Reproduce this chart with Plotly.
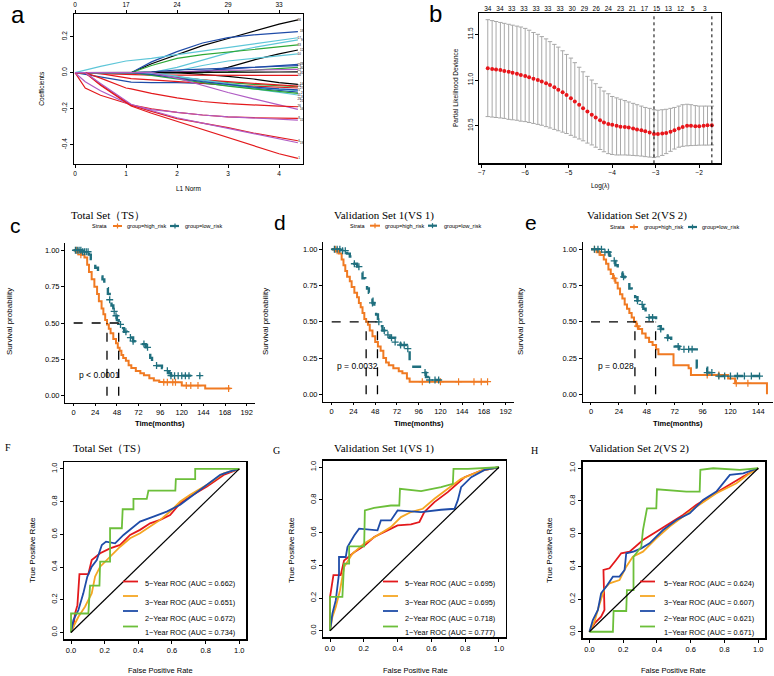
import numpy as np
import plotly.graph_objects as go

W, H = 774, 676
def px(x): return x / W
def py(y): return 1 - y / H

SANS = "Liberation Sans, Arial, sans-serif"
SERIF = "Liberation Serif, Times New Roman, serif"

# ================= Panel a : LASSO coefficient paths =================
l1_norm = [0, 0.2, 0.5, 1.0, 1.1, 1.5, 2.0, 2.5, 3.0, 3.5, 4.0, 4.37]
coef_paths = [
    [0, 0, 0, 0, 0, 0.05, 0.098, 0.15, 0.19, 0.23, 0.27, 0.293],
    [0, 0, 0, 0, 0, 0.06, 0.117, 0.165, 0.195, 0.21, 0.222, 0.228],
    [0, 0.015, 0.035, 0.065, 0.068, 0.08, 0.10, 0.12, 0.14, 0.16, 0.18, 0.194],
    [0, 0, 0, 0, 0, 0, 0.03, 0.07, 0.11, 0.14, 0.165, 0.182],
    [0, 0, 0, 0, 0, 0.04, 0.08, 0.10, 0.115, 0.13, 0.145, 0.154],
    [0, 0, 0, 0, 0, 0, 0, 0, 0.03, 0.07, 0.105, 0.126],
    [0, 0, 0, 0, 0, 0, 0.01, 0.04, 0.065, 0.08, 0.095, 0.105],
    [0, 0, 0, 0, 0, 0, 0, 0.01, 0.02, 0.03, 0.04, 0.046],
    [0, 0, 0, 0, 0, 0.005, 0.015, 0.02, 0.025, 0.03, 0.036, 0.039],
    [0, 0, 0, 0, 0, 0, 0, 0, 0.005, 0.015, 0.025, 0.03],
    [0, 0, 0, 0, 0, 0, 0.005, 0.01, 0.013, 0.015, 0.017, 0.018],
    [0, 0, 0, 0, 0, 0, 0, -0.01, -0.02, -0.035, -0.055, -0.065],
    [0, 0, 0, 0, 0, 0, 0, 0, 0.002, 0.003, 0.004, 0.005],
    [0, 0, -0.005, -0.01, -0.012, -0.013, -0.014, -0.014, -0.015, -0.015, -0.015, -0.015],
    [0, -0.01, -0.025, -0.05, -0.052, -0.055, -0.055, -0.06, -0.07, -0.085, -0.10, -0.108],
    [0, 0, -0.005, -0.03, -0.033, -0.04, -0.05, -0.06, -0.068, -0.074, -0.08, -0.085],
    [0, 0, 0, 0, 0, -0.01, -0.025, -0.04, -0.055, -0.065, -0.073, -0.078],
    [0, 0, 0, 0, 0, -0.01, -0.025, -0.04, -0.05, -0.06, -0.07, -0.075],
    [0, 0, 0, 0, 0, -0.005, -0.02, -0.04, -0.06, -0.08, -0.093, -0.10],
    [0, 0, 0, 0, 0, 0, -0.02, -0.045, -0.07, -0.09, -0.11, -0.124],
    [0, 0, 0, 0, 0, -0.015, -0.035, -0.055, -0.075, -0.09, -0.105, -0.115],
    [0, 0, 0, 0, 0, -0.01, -0.03, -0.05, -0.065, -0.08, -0.09, -0.095],
    [0, 0, 0, 0, 0, 0, -0.03, -0.07, -0.11, -0.145, -0.18, -0.204],
    [0, 0, -0.03, -0.085, -0.09, -0.115, -0.14, -0.16, -0.172, -0.18, -0.186, -0.189],
    [0, -0.085, -0.125, -0.17, -0.178, -0.20, -0.22, -0.235, -0.245, -0.25, -0.253, -0.254],
    [0, -0.05, -0.10, -0.17, -0.18, -0.205, -0.222, -0.235, -0.245, -0.253, -0.26, -0.263],
    [0, 0, -0.07, -0.17, -0.185, -0.225, -0.27, -0.315, -0.36, -0.405, -0.45, -0.476],
    [0, 0, -0.065, -0.165, -0.18, -0.215, -0.255, -0.28, -0.305, -0.335, -0.36, -0.378],
    [0, 0, -0.06, -0.16, -0.175, -0.21, -0.25, -0.28, -0.31, -0.34, -0.37, -0.389],
]
path_labels = ["36", "18", "17", "9", "33", "12", "10", "28", "25", "30", "22", "14",
               "31", "20", "3", "5", "27", "24", "11", "21", "29", "2", "16", "26",
               "8", "15", "1", "6", "19"]
path_colors = ["#000000", "#1F4CA8", "#5EC6D8", "#5EC6D8", "#2EA836", "#000000",
               "#5EC6D8", "#1F4CA8", "#1F4CA8", "#2EA836", "#B05CC4", "#000000",
               "#000000", "#E3191C", "#1F4CA8", "#E3191C", "#2EA836", "#E3191C",
               "#5EC6D8", "#5EC6D8", "#2EA836", "#1F4CA8", "#B05CC4", "#E3191C",
               "#E3191C", "#B05CC4", "#E3191C", "#E3191C", "#B05CC4"]
a_top_pos = [0, 1, 2, 3, 4]
a_top_labels = ["0", "17", "24", "29", "33"]

# ================= Panel b : cross-validation deviance =================
log_lambda = [-6.86, -6.76, -6.67, -6.57, -6.48, -6.38, -6.29, -6.19, -6.10, -6.00,
              -5.91, -5.81, -5.71, -5.62, -5.52, -5.43, -5.33, -5.24, -5.14, -5.05,
              -4.95, -4.86, -4.76, -4.67, -4.57, -4.47, -4.38, -4.28, -4.19, -4.09,
              -4.00, -3.90, -3.81, -3.71, -3.62, -3.52, -3.43, -3.33, -3.24, -3.14,
              -3.04, -2.95, -2.85, -2.76, -2.66, -2.57, -2.47, -2.38, -2.28, -2.19,
              -2.09, -2.00, -1.90, -1.81, -1.71]
cv_mean = [11.13, 11.12, 11.115, 11.11, 11.10, 11.09, 11.08, 11.07, 11.055, 11.045,
           11.03, 11.015, 11.0, 10.985, 10.965, 10.945, 10.92, 10.895, 10.865, 10.835,
           10.80, 10.765, 10.73, 10.69, 10.655, 10.62, 10.59, 10.56, 10.535, 10.52,
           10.51, 10.50, 10.49, 10.485, 10.48, 10.47, 10.46, 10.45, 10.44, 10.425,
           10.41, 10.41, 10.415, 10.42, 10.435, 10.45, 10.47, 10.485, 10.50, 10.50,
           10.495, 10.495, 10.50, 10.505, 10.505]
cv_upper = [11.66, 11.65, 11.64, 11.63, 11.62, 11.61, 11.60, 11.59, 11.58, 11.565,
            11.545, 11.52, 11.50, 11.475, 11.45, 11.42, 11.39, 11.36, 11.32, 11.28,
            11.24, 11.19, 11.14, 11.09, 11.04, 11.00, 10.96, 10.92, 10.88, 10.85,
            10.82, 10.805, 10.79, 10.775, 10.76, 10.745, 10.73, 10.715, 10.70, 10.69,
            10.675, 10.67, 10.675, 10.68, 10.69, 10.70, 10.715, 10.73, 10.735, 10.73,
            10.72, 10.715, 10.715, 10.715, 10.715]
cv_lower = [10.60, 10.595, 10.59, 10.585, 10.58, 10.57, 10.565, 10.56, 10.55, 10.545,
            10.535, 10.525, 10.515, 10.505, 10.49, 10.475, 10.46, 10.445, 10.43, 10.415,
            10.395, 10.375, 10.355, 10.335, 10.31, 10.29, 10.265, 10.24, 10.215, 10.195,
            10.185, 10.18, 10.18, 10.18, 10.178, 10.175, 10.172, 10.168, 10.162, 10.157,
            10.152, 10.16, 10.175, 10.195, 10.22, 10.245, 10.265, 10.275, 10.28, 10.283,
            10.285, 10.287, 10.288, 10.288, 10.29]
nzero_pos = [-6.86, -6.58, -6.31, -6.03, -5.75, -5.48, -5.20, -4.92, -4.64, -4.37,
             -4.09, -3.81, -3.54, -3.26, -2.98, -2.71, -2.43, -2.15, -1.87]
nzero_labels = ["34", "34", "33", "33", "33", "33", "33", "30", "29", "26",
                "24", "23", "21", "17", "15", "13", "12", "5", "3"]
lambda_min = -3.04
lambda_1se = -1.71

# ================= Panels c, d, e : Kaplan-Meier =================
km_c_high_t = [0, 4, 8, 12, 15, 17, 20, 23, 26, 28, 31, 33, 35, 37, 39, 41, 44, 47, 49, 51,
               53, 55, 58, 61, 64, 69, 74, 78, 84, 89, 95, 100, 120, 146, 174]
km_c_high_s = [1.0, 0.99, 0.97, 0.95, 0.90, 0.85, 0.80, 0.75, 0.70, 0.65, 0.60, 0.56, 0.52,
               0.49, 0.46, 0.43, 0.39, 0.36, 0.33, 0.31, 0.28, 0.26, 0.24, 0.21, 0.19, 0.17,
               0.155, 0.14, 0.12, 0.105, 0.095, 0.092, 0.07, 0.05, 0.05]
km_c_low_t = [0, 10, 17, 19, 21, 24, 27, 30, 32, 34, 36, 38, 40, 42, 44, 46, 48, 50, 53, 56,
              59, 62, 66, 70, 80, 83, 85, 87, 98, 102, 106, 108, 141]
km_c_low_s = [1.0, 0.99, 0.97, 0.94, 0.91, 0.88, 0.85, 0.82, 0.80, 0.77, 0.74, 0.70, 0.66,
              0.62, 0.58, 0.55, 0.52, 0.49, 0.465, 0.44, 0.42, 0.40, 0.375, 0.355, 0.333,
              0.30, 0.26, 0.207, 0.19, 0.172, 0.155, 0.138, 0.138]
km_c_high_cens = [3, 5, 8, 100, 104, 110, 113, 125, 130, 138, 172]
km_c_low_cens = [2, 4, 6, 8, 10, 12, 14, 16, 40, 45, 47, 52, 58, 63, 66, 78, 82, 92,
                 104, 108, 112, 116, 120, 124, 128, 140]
km_c_median = [37, 50]

km_d_high_t = [0, 5, 8, 11, 13, 15, 17, 20, 22, 25, 28, 30, 32, 34, 36, 38, 40, 42, 45, 48,
               51, 54, 57, 60, 63, 68, 74, 78, 83, 86, 172]
km_d_high_s = [1.0, 0.99, 0.97, 0.93, 0.89, 0.85, 0.81, 0.78, 0.74, 0.70, 0.67, 0.63, 0.60,
               0.56, 0.52, 0.50, 0.48, 0.44, 0.40, 0.36, 0.33, 0.30, 0.25, 0.22, 0.20, 0.18,
               0.16, 0.145, 0.11, 0.087, 0.087]
km_d_low_t = [0, 12, 17, 20, 22, 25, 28, 31, 34, 37, 39, 41, 43, 45, 47, 49, 51, 53, 56, 60,
              64, 70, 76, 83, 86, 100, 102, 104, 106, 120]
km_d_low_s = [1.0, 0.99, 0.97, 0.95, 0.92, 0.90, 0.88, 0.84, 0.80, 0.76, 0.73, 0.70, 0.66,
              0.63, 0.59, 0.55, 0.50, 0.47, 0.44, 0.41, 0.39, 0.36, 0.34, 0.315, 0.19, 0.17,
              0.15, 0.12, 0.099, 0.099]
km_d_high_cens = [4, 6, 100, 120, 140, 157, 165, 172]
km_d_low_cens = [3, 6, 9, 12, 15, 25, 30, 45, 52, 58, 62, 66, 70, 76, 80, 84, 103, 108, 114, 118]
km_d_median = [38, 50.5]

km_e_high_t = [0, 5, 8, 11, 13, 15, 17, 19, 21, 23, 25, 27, 29, 31, 33, 35, 37, 39, 41, 44,
               47, 50, 53, 56, 58, 71, 84, 86, 118, 124, 151.4]
km_e_high_s = [1.0, 0.98, 0.96, 0.93, 0.90, 0.86, 0.83, 0.80, 0.77, 0.73, 0.69, 0.66, 0.62,
               0.59, 0.56, 0.53, 0.50, 0.47, 0.45, 0.42, 0.39, 0.36, 0.34, 0.31, 0.276, 0.20,
               0.18, 0.133, 0.11, 0.076, 0.0]
km_e_low_t = [0, 12, 16, 19, 21, 23, 25, 27, 29, 31, 33, 35, 38, 40, 42, 45, 47, 50, 56, 58,
              60, 63, 66, 69, 72, 76, 91, 100, 110, 145.6]
km_e_low_s = [1.0, 0.98, 0.955, 0.92, 0.89, 0.86, 0.84, 0.81, 0.79, 0.76, 0.73, 0.70, 0.67,
              0.645, 0.62, 0.59, 0.56, 0.53, 0.506, 0.47, 0.45, 0.42, 0.39, 0.36, 0.33, 0.31,
              0.184, 0.15, 0.126, 0.126]
km_e_high_cens = [3, 7, 20, 40, 100, 110, 125, 135]
km_e_low_cens = [3, 6, 9, 12, 15, 20, 28, 40, 44, 50, 53, 60, 66, 75, 80, 84, 87, 100,
                 104, 110, 115, 120, 126, 132, 138, 145]
km_e_median = [37.8, 55.6]

km_titles = ["Total Set（TS）", "Validation Set 1(VS 1)", "Validation Set 2(VS 2)"]
km_pvalues = ["p < 0.0001", "p = 0.0032", "p = 0.028"]

# ================= Panels F, G, H : time-dependent ROC =================
roc_years = ["5", "3", "2", "1"]
roc_F_fpr = [
    [0, 0.014, 0.024, 0.038, 0.05, 0.103, 0.123, 0.173, 0.232, 0.292, 0.351, 0.41, 0.47, 0.53, 0.589, 0.649, 0.708, 0.808, 0.907, 1],
    [0, 0.014, 0.044, 0.083, 0.123, 0.143, 0.173, 0.232, 0.292, 0.351, 0.41, 0.47, 0.53, 0.589, 0.649, 0.708, 0.808, 0.907, 1],
    [0, 0.014, 0.044, 0.073, 0.097, 0.123, 0.153, 0.183, 0.208, 0.262, 0.312, 0.351, 0.41, 0.49, 0.569, 0.649, 0.728, 0.808, 0.887, 0.946, 1],
    [0, 0, 0.103, 0.113, 0.169, 0.173, 0.232, 0.232, 0.302, 0.307, 0.371, 0.371, 0.45, 0.46, 0.62, 0.623, 0.738, 0.738, 1],
]
roc_F_tpr = [
    [0, 0.035, 0.116, 0.167, 0.357, 0.357, 0.443, 0.484, 0.514, 0.535, 0.596, 0.627, 0.667, 0.688, 0.718, 0.79, 0.831, 0.892, 0.963, 1],
    [0, 0.035, 0.096, 0.157, 0.239, 0.341, 0.402, 0.463, 0.524, 0.576, 0.606, 0.647, 0.688, 0.739, 0.8, 0.841, 0.902, 0.973, 1],
    [0, 0.076, 0.137, 0.239, 0.341, 0.402, 0.443, 0.535, 0.555, 0.545, 0.596, 0.627, 0.678, 0.708, 0.739, 0.78, 0.841, 0.902, 0.963, 0.984, 1],
    [0, 0.116, 0.116, 0.286, 0.286, 0.433, 0.433, 0.637, 0.637, 0.753, 0.753, 0.816, 0.816, 0.867, 0.867, 0.937, 0.937, 1.0, 1],
]
roc_F_auc = ["0.662", "0.651", "0.672", "0.734"]

roc_G_fpr = [
    [0, 0, 0.02, 0.063, 0.083, 0.143, 0.202, 0.261, 0.34, 0.40, 0.479, 0.529, 0.558, 0.618, 0.697, 0.796, 0.895, 1],
    [0, 0.014, 0.034, 0.059, 0.083, 0.133, 0.202, 0.281, 0.36, 0.42, 0.479, 0.549, 0.618, 0.697, 0.776, 0.895, 1],
    [0, 0.014, 0.034, 0.053, 0.053, 0.093, 0.103, 0.143, 0.172, 0.232, 0.281, 0.301, 0.36, 0.40, 0.539, 0.657, 0.737, 0.756, 0.776, 0.836, 0.915, 1],
    [0, 0, 0.073, 0.083, 0.113, 0.113, 0.202, 0.206, 0.261, 0.36, 0.41, 0.414, 0.539, 0.657, 0.727, 0.731, 0.816, 1],
]
roc_G_tpr = [
    [0, 0.207, 0.34, 0.34, 0.43, 0.48, 0.52, 0.573, 0.614, 0.644, 0.65, 0.665, 0.726, 0.787, 0.848, 0.939, 0.98, 1],
    [0, 0.085, 0.146, 0.248, 0.39, 0.472, 0.533, 0.583, 0.634, 0.695, 0.726, 0.746, 0.807, 0.868, 0.929, 0.98, 1],
    [0, 0.106, 0.187, 0.35, 0.451, 0.451, 0.512, 0.583, 0.624, 0.618, 0.614, 0.675, 0.675, 0.736, 0.726, 0.74, 0.746, 0.797, 0.878, 0.939, 0.984, 1],
    [0, 0.207, 0.207, 0.41, 0.41, 0.516, 0.516, 0.736, 0.752, 0.766, 0.766, 0.868, 0.854, 0.878, 0.898, 0.99, 0.99, 1],
]
roc_G_auc = ["0.695", "0.695", "0.718", "0.777"]

roc_H_fpr = [
    [0, 0.03, 0.069, 0.089, 0.083, 0.119, 0.158, 0.188, 0.238, 0.277, 0.317, 0.396, 0.475, 0.554, 0.634, 0.713, 0.812, 0.911, 1],
    [0, 0.03, 0.055, 0.089, 0.119, 0.178, 0.218, 0.257, 0.317, 0.396, 0.475, 0.554, 0.634, 0.752, 0.871, 0.95, 1],
    [0, 0.02, 0.05, 0.069, 0.099, 0.139, 0.178, 0.208, 0.218, 0.261, 0.307, 0.356, 0.436, 0.515, 0.594, 0.673, 0.752, 0.832, 0.911, 1],
    [0, 0.139, 0.143, 0.218, 0.222, 0.261, 0.261, 0.307, 0.317, 0.341, 0.396, 0.40, 0.574, 0.653, 0.657, 0.733, 0.891, 1],
]
roc_H_tpr = [
    [0, 0.051, 0.092, 0.133, 0.378, 0.388, 0.439, 0.48, 0.49, 0.524, 0.561, 0.612, 0.663, 0.714, 0.776, 0.827, 0.888, 0.949, 1],
    [0, 0.061, 0.153, 0.265, 0.296, 0.316, 0.398, 0.459, 0.49, 0.571, 0.643, 0.704, 0.765, 0.847, 0.908, 0.969, 1],
    [0, 0.071, 0.133, 0.235, 0.276, 0.337, 0.337, 0.378, 0.48, 0.49, 0.51, 0.541, 0.622, 0.684, 0.724, 0.806, 0.857, 0.959, 0.969, 1],
    [0, 0, 0.127, 0.127, 0.255, 0.255, 0.459, 0.52, 0.622, 0.755, 0.755, 0.871, 0.857, 0.857, 0.99, 1.0, 0.99, 1],
]
roc_H_auc = ["0.624", "0.607", "0.621", "0.671"]
roc_titles = ["Total Set（TS）", "Validation Set 1(VS 1)", "Validation Set 2(VS 2)"]

# ================= Styles =================
ORANGE = "#F07A22"
TEAL = "#1F6F7E"
ROC_COLORS = ["#E3191C", "#F5A623", "#1F4CA8", "#6CBF3A"]

fig = go.Figure()
shapes = []
annotations = []

def ann(text, x, y, size=8, family=SANS, color="black", xanchor="center", yanchor="middle",
        textangle=0, bold=False, xref="paper", yref="paper"):
    if bold:
        text = "<b>" + text + "</b>"
    annotations.append(dict(text=text, x=x, y=y, xref=xref, yref=yref, showarrow=False,
                            xanchor=xanchor, yanchor=yanchor, textangle=textangle,
                            font=dict(size=size, family=family, color=color)))

# ---------- panel a traces ----------
for vals, col in zip(coef_paths, path_colors):
    fig.add_trace(go.Scatter(x=l1_norm, y=vals, mode="lines", line=dict(color=col, width=1.2),
                             xaxis="x", yaxis="y", showlegend=False, hoverinfo="skip"))
ends = [p[-1] for p in coef_paths]
order = sorted(range(len(ends)), key=lambda i: -ends[i])
col_x = [4.395, 4.445]
last_in_col = [None, None]
lab_x = [0.0] * len(ends)
lab_y = [0.0] * len(ends)
for n, i in enumerate(order):
    c = n % 2
    yv = ends[i]
    if last_in_col[c] is not None and yv > last_in_col[c] - 0.024:
        yv = last_in_col[c] - 0.024
    lab_x[i] = col_x[c]
    lab_y[i] = yv
    last_in_col[c] = yv
fig.add_trace(go.Scatter(x=lab_x, y=lab_y, mode="text",
                         text=path_labels, textfont=dict(size=3, family=SANS, color="black"),
                         xaxis="x", yaxis="y", showlegend=False, hoverinfo="skip"))
fig.add_trace(go.Scatter(x=a_top_pos, y=[0] * len(a_top_pos), mode="markers",
                         marker=dict(opacity=0), xaxis="x9", yaxis="y",
                         showlegend=False, hoverinfo="skip"))

# ---------- panel b traces ----------
err_up = [u - m for u, m in zip(cv_upper, cv_mean)]
err_dn = [m - l for m, l in zip(cv_mean, cv_lower)]
fig.add_trace(go.Scatter(x=log_lambda, y=cv_mean, mode="markers",
                         marker=dict(color="#E8161B", size=4),
                         error_y=dict(type="data", symmetric=False, array=err_up,
                                      arrayminus=err_dn, color="#A8A8A8", thickness=1, width=2.2),
                         xaxis="x2", yaxis="y2", showlegend=False, hoverinfo="skip"))
fig.add_trace(go.Scatter(x=nzero_pos, y=[cv_mean[0]] * len(nzero_pos), mode="markers",
                         marker=dict(opacity=0), xaxis="x10", yaxis="y2",
                         showlegend=False, hoverinfo="skip"))
for lv in (lambda_min, lambda_1se):
    shapes.append(dict(type="line", xref="x2", yref="y2 domain", x0=lv, x1=lv, y0=0, y1=1,
                       line=dict(color="black", width=1, dash="dot")))

# ---------- KM panels ----------
def step_eval(t, s, ct):
    idx = np.searchsorted(np.array(t), np.array(ct), side="right") - 1
    idx = np.clip(idx, 0, len(s) - 1)
    return list(np.array(s)[idx])

km_sets = [
    (km_c_high_t, km_c_high_s, km_c_low_t, km_c_low_s, km_c_high_cens, km_c_low_cens, km_c_median, "3"),
    (km_d_high_t, km_d_high_s, km_d_low_t, km_d_low_s, km_d_high_cens, km_d_low_cens, km_d_median, "4"),
    (km_e_high_t, km_e_high_s, km_e_low_t, km_e_low_s, km_e_high_cens, km_e_low_cens, km_e_median, "5"),
]
for k, (ht, hs, lt, ls, hc, lc, med, ax) in enumerate(km_sets):
    xa, ya = "x" + ax, "y" + ax
    shapes.append(dict(type="line", xref=xa, yref=ya, x0=0, x1=max(med), y0=0.5, y1=0.5,
                       line=dict(color="black", width=1.3, dash="dash")))
    for m in med:
        shapes.append(dict(type="line", xref=xa, yref=ya, x0=m, x1=m, y0=0, y1=0.5,
                           line=dict(color="black", width=1.3, dash="dash")))
    fig.add_trace(go.Scatter(x=ht, y=hs, mode="lines", line=dict(color=ORANGE, width=2, shape="hv"),
                             xaxis=xa, yaxis=ya, showlegend=False, hoverinfo="skip"))
    fig.add_trace(go.Scatter(x=lt, y=ls, mode="lines",
                             line=dict(color=TEAL, width=2.4, shape="hv", dash="dash"),
                             xaxis=xa, yaxis=ya, showlegend=False, hoverinfo="skip"))
    fig.add_trace(go.Scatter(x=hc, y=step_eval(ht, hs, hc), mode="markers",
                             marker=dict(symbol="cross-thin", size=5, line=dict(color=ORANGE, width=1.2)),
                             xaxis=xa, yaxis=ya, showlegend=False, hoverinfo="skip"))
    fig.add_trace(go.Scatter(x=lc, y=step_eval(lt, ls, lc), mode="markers",
                             marker=dict(symbol="cross-thin", size=5, line=dict(color=TEAL, width=1.3)),
                             xaxis=xa, yaxis=ya, showlegend=False, hoverinfo="skip"))
    ann(km_pvalues[k], 4, [0.14, 0.195, 0.197][k], size=8.5, xanchor="left",
        xref=xa, yref=ya)

# ---------- ROC panels ----------
roc_sets = [(roc_F_fpr, roc_F_tpr, roc_F_auc, "6"),
            (roc_G_fpr, roc_G_tpr, roc_G_auc, "7"),
            (roc_H_fpr, roc_H_tpr, roc_H_auc, "8")]
for fprs, tprs, aucs, ax in roc_sets:
    xa, ya = "x" + ax, "y" + ax
    for j in range(4):
        fig.add_trace(go.Scatter(x=fprs[j], y=tprs[j], mode="lines",
                                 line=dict(color=ROC_COLORS[j], width=1.8),
                                 xaxis=xa, yaxis=ya, showlegend=False, hoverinfo="skip"))
    shapes.append(dict(type="line", xref=xa, yref=ya, x0=0, y0=0, x1=1, y1=1,
                       line=dict(color="black", width=1.2)))

# ================= Axes =================
def r_axis(domain, rng, tickvals, ticktext=None, anchor=None, angle=0, size=6.5, lw=1.2):
    d = dict(domain=domain, range=rng, tickvals=tickvals, ticks="outside", ticklen=3,
             tickwidth=1, tickcolor="black", showline=True, mirror=True, linecolor="black",
             linewidth=lw, showgrid=False, zeroline=False, tickangle=angle,
             tickfont=dict(size=size, family=SANS, color="black"), fixedrange=True)
    if ticktext is not None:
        d["ticktext"] = ticktext
    if anchor:
        d["anchor"] = anchor
    return d

def km_axis(domain, rng, tickvals, ticktext=None, anchor=None, ticklen=3):
    d = dict(domain=domain, range=rng, tickvals=tickvals, ticks="outside", ticklen=ticklen,
             tickwidth=1, tickcolor="black", showline=True, mirror=False, linecolor="black",
             linewidth=1, showgrid=False, zeroline=False,
             tickfont=dict(size=7.5, family=SANS, color="black"))
    if ticktext is not None:
        d["ticktext"] = ticktext
    if anchor:
        d["anchor"] = anchor
    return d

layout = dict(width=W, height=H, margin=dict(l=0, r=0, t=0, b=0),
              paper_bgcolor="white", plot_bgcolor="white", showlegend=False)

layout["xaxis"] = r_axis([px(74), px(303)], [-0.02, 4.47], [0, 1, 2, 3, 4], anchor="y")
layout["yaxis"] = r_axis([py(164), py(14)], [-0.507, 0.326], [-0.4, -0.2, 0, 0.2],
                         ["-0.4", "-0.2", "0.0", "0.2"], anchor="x", angle=-90)
layout["xaxis9"] = dict(overlaying="x", side="top", anchor="y", range=[-0.02, 4.47],
                        tickvals=a_top_pos, ticktext=a_top_labels, ticks="outside", ticklen=3,
                        tickcolor="black", showline=False, showgrid=False, zeroline=False,
                        tickfont=dict(size=6.5, family=SANS, color="black"))
layout["xaxis2"] = r_axis([px(479.3), px(721)], [-7.055, -1.50], [-7, -6, -5, -4, -3, -2],
                          ["−7", "−6", "−5", "−4", "−3", "−2"], anchor="y2")
layout["yaxis2"] = r_axis([py(163.3), py(13.3)], [10.089, 11.73], [10.5, 11.0, 11.5],
                          ["10.5", "11.0", "11.5"], anchor="x2", angle=-90)
layout["xaxis10"] = dict(overlaying="x2", side="top", anchor="y2", range=[-7.055, -1.50],
                         tickvals=nzero_pos, ticktext=nzero_labels, ticks="", showline=False,
                         showgrid=False, zeroline=False,
                         tickfont=dict(size=6.5, family=SANS, color="black"))
km_ticks_y = [0, 0.25, 0.5, 0.75, 1.0]
km_ticks_yt = ["0.00", "0.25", "0.50", "0.75", "1.00"]
km_months_long = [0, 24, 48, 72, 96, 120, 144, 168, 192]
km_months_short = [0, 24, 48, 72, 96, 120, 144]
layout["xaxis3"] = km_axis([px(65), px(255.3)], [-9.6, 201.6], km_months_long, anchor="y3", ticklen=2)
layout["yaxis3"] = km_axis([py(403), py(243)], [-0.05, 1.05], km_ticks_y, km_ticks_yt, anchor="x3")
layout["xaxis4"] = km_axis([px(323), px(514.4)], [-9.6, 201.6], km_months_long, anchor="y4", ticklen=2)
layout["yaxis4"] = km_axis([py(401.6), py(242)], [-0.05, 1.05], km_ticks_y, km_ticks_yt, anchor="x4")
layout["xaxis5"] = km_axis([px(582.5), px(773)], [-7.3, 156.6], km_months_short, anchor="y5", ticklen=2)
layout["yaxis5"] = km_axis([py(401.6), py(242)], [-0.05, 1.05], km_ticks_y, km_ticks_yt, anchor="x5")
roc_ticks = [0, 0.2, 0.4, 0.6, 0.8, 1.0]
roc_tt = ["0.0", "0.2", "0.4", "0.6", "0.8", "1.0"]
roc_dom = [([px(64.3), px(246)], [py(639), py(462.3)]),
           ([px(323.3), px(505.7)], [py(637.3), py(460.7)]),
           ([px(582.7), px(765)], [py(638.3), py(461.7)])]
for i, (dx, dy) in enumerate(roc_dom):
    n = str(6 + i)
    layout["xaxis" + n] = r_axis(dx, [-0.04, 1.04], roc_ticks, roc_tt, anchor="y" + n, size=7.5, lw=1.5)
    layout["yaxis" + n] = r_axis(dy, [-0.04, 1.04], roc_ticks, roc_tt, anchor="x" + n, angle=-90,
                                 size=7.5, lw=1.5)

# ================= Text =================
ann("a", px(18), py(15), size=24)
ann("b", px(435), py(14), size=24)
ann("c", px(15), py(225), size=21)
ann("d", px(280), py(222), size=21)
ann("e", px(531), py(222), size=21)
ann("F", px(8), py(447), size=10, family=SERIF)
ann("G", px(276), py(450), size=10, family=SERIF)
ann("H", px(534), py(450), size=10, family=SERIF)

ann("Coefficients", px(40.7), py(88), size=6.5, textangle=-90)
ann("L1 Norm", px(188), py(189), size=6.5)
ann("Partial Likelihood Deviance", px(455), py(88), size=6.5, textangle=-90)
ann("Log(λ)", px(600), py(186), size=6.5)

km_title_x = [108, 384, 637]
km_ylab_x = [9, 265, 520]
km_xlab_x = [160, 419, 678]
for k in range(3):
    ann(km_titles[k], px(km_title_x[k]), py(215), size=11, family=SERIF)
    ann("Survival probability", px(km_ylab_x[k]), py(322), size=8, textangle=-90)
    ann("Time(months)", px(km_xlab_x[k]), py(417), size=7.5, bold=True, yanchor="top")

km_leg = [
    (100, 113, 122, 125, 170, 180, 183, 226),
    (357.5, 370, 380, 383, 428, 437, 442, 225.7),
    (617.5, 630, 638, 642, 688, 697, 700, 227),
]
for sx, o0, o1, t1, c0, c1, t2, ly in km_leg:
    ann("Strata", px(sx), py(ly), size=5.5)
    shapes.append(dict(type="line", xref="paper", yref="paper", x0=px(o0), x1=px(o1),
                       y0=py(ly), y1=py(ly), line=dict(color=ORANGE, width=2)))
    shapes.append(dict(type="line", xref="paper", yref="paper", x0=px((o0 + o1) / 2), x1=px((o0 + o1) / 2),
                       y0=py(ly - 2.5), y1=py(ly + 2.5), line=dict(color=ORANGE, width=1.2)))
    shapes.append(dict(type="line", xref="paper", yref="paper", x0=px(c0), x1=px(c1),
                       y0=py(ly), y1=py(ly), line=dict(color=TEAL, width=2.2, dash="dash")))
    shapes.append(dict(type="line", xref="paper", yref="paper", x0=px((c0 + c1) / 2), x1=px((c0 + c1) / 2),
                       y0=py(ly - 2.5), y1=py(ly + 2.5), line=dict(color=TEAL, width=1.2)))
    ann("group=high_risk", px(t1), py(ly), size=5.5, xanchor="left")
    ann("group=low_risk", px(t2), py(ly), size=5.5, xanchor="left")

roc_title_x = [110, 384, 639]
roc_ylab_x = [32, 291, 549]
roc_xlab_x = [160, 415, 673]
roc_leg = [(123, 138, 143), (383, 398, 403), (640, 655, 662)]
leg_line_y = [581.5, 596, 611, 626.5]
leg_text_y = [583, 602, 618, 632.5]
roc_aucs = [roc_F_auc, roc_G_auc, roc_H_auc]
for k in range(3):
    ann(roc_titles[k], px(roc_title_x[k]), py(448), size=11, family=SERIF)
    ann("True Positive Rate", px(roc_ylab_x[k]), py(550), size=8, textangle=-90)
    ann("False Positive Rate", px(roc_xlab_x[k]), py(670), size=7.5)
    l0, l1, tx = roc_leg[k]
    for j in range(4):
        shapes.append(dict(type="line", xref="paper", yref="paper", x0=px(l0), x1=px(l1),
                           y0=py(leg_line_y[j]), y1=py(leg_line_y[j]),
                           line=dict(color=ROC_COLORS[j], width=1.8)))
        ann(roc_years[j] + "−Year ROC (AUC = " + roc_aucs[k][j] + ")", px(tx), py(leg_text_y[j]),
            size=7.3, xanchor="left")

layout["shapes"] = shapes
layout["annotations"] = annotations
fig.update_layout(**layout)
fig.write_html("out.html", config={"displayModeBar": False, "staticPlot": True},
               post_script="document.body.style.margin='0px';document.body.style.overflow='hidden';")
